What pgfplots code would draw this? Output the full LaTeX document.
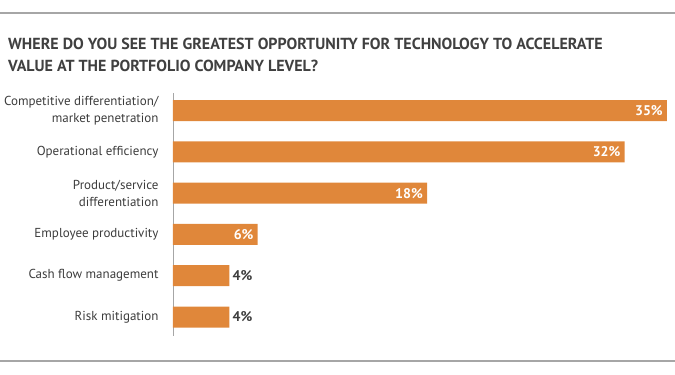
\documentclass[border=0pt]{standalone}
\usepackage{pgfplots}
\pgfplotsset{compat=1.18}
\usepackage{fontspec}
\setmainfont{PT Sans}
\definecolor{barorange}{RGB}{224,135,58}
\definecolor{labelgray}{RGB}{60,60,60}
\definecolor{titlegray}{RGB}{64,64,64}
\definecolor{linegray}{RGB}{166,166,166}
\begin{document}
\begin{tikzpicture}[x=1pt,y=1pt]
\path[use as bounding box] (0,0) rectangle (675,375);
\draw[linegray, line width=1.3pt] (0,362) -- (675,362);
\draw[linegray, line width=1.3pt] (0,14) -- (675,14);
\node[anchor=base west, font=\bfseries\fontsize{16}{18}\selectfont, text=titlegray, inner sep=0] at (8,325) {WHERE DO YOU SEE THE GREATEST OPPORTUNITY FOR TECHNOLOGY TO ACCELERATE};
\node[anchor=base west, font=\bfseries\fontsize{16}{18}\selectfont, text=titlegray, inner sep=0] at (8,303) {VALUE AT THE PORTFOLIO COMPANY LEVEL?};
\begin{axis}[
  at={(173pt,39pt)}, anchor=south west,
  scale only axis, width=502pt, height=243pt,
  xmin=0, xmax=35.57, ymin=-0.424, ymax=5.46,
  y dir=reverse,
  axis x line=none, axis y line*=left,
  y axis line style={draw=linegray, line width=0.8pt, -},
  ytick={0,1,2,3,4,5},
  major tick length=0pt,
  /pgf/number format/assume math mode=true,
  yticklabels={{Competitive differentiation/\\market penetration},{Operational efficiency},{Product/service\\differentiation},{Employee productivity},{Cash flow management},{Risk mitigation}},
  yticklabel style={align=right, font=\fontsize{13}{17}\selectfont, text=labelgray, xshift=-11pt},
  xbar, bar width=21pt, bar shift=0pt,
  point meta=x,
  nodes near coords={\pgfmathprintnumber{\pgfplotspointmeta}\%},
  clip=false,
]
\addplot[fill=barorange, draw=none,
  every node near coord/.append style={anchor=east, text=white, font=\bfseries\fontsize{14}{16}\selectfont, inner sep=4pt}]
  coordinates {(35,0) (32,1) (18,2) (6,3)};
\addplot[fill=barorange, draw=none,
  every node near coord/.append style={anchor=west, text=labelgray, font=\bfseries\fontsize{14}{16}\selectfont, inner sep=3pt}]
  coordinates {(4,4) (4,5)};
\end{axis}
\end{tikzpicture}
\end{document}
